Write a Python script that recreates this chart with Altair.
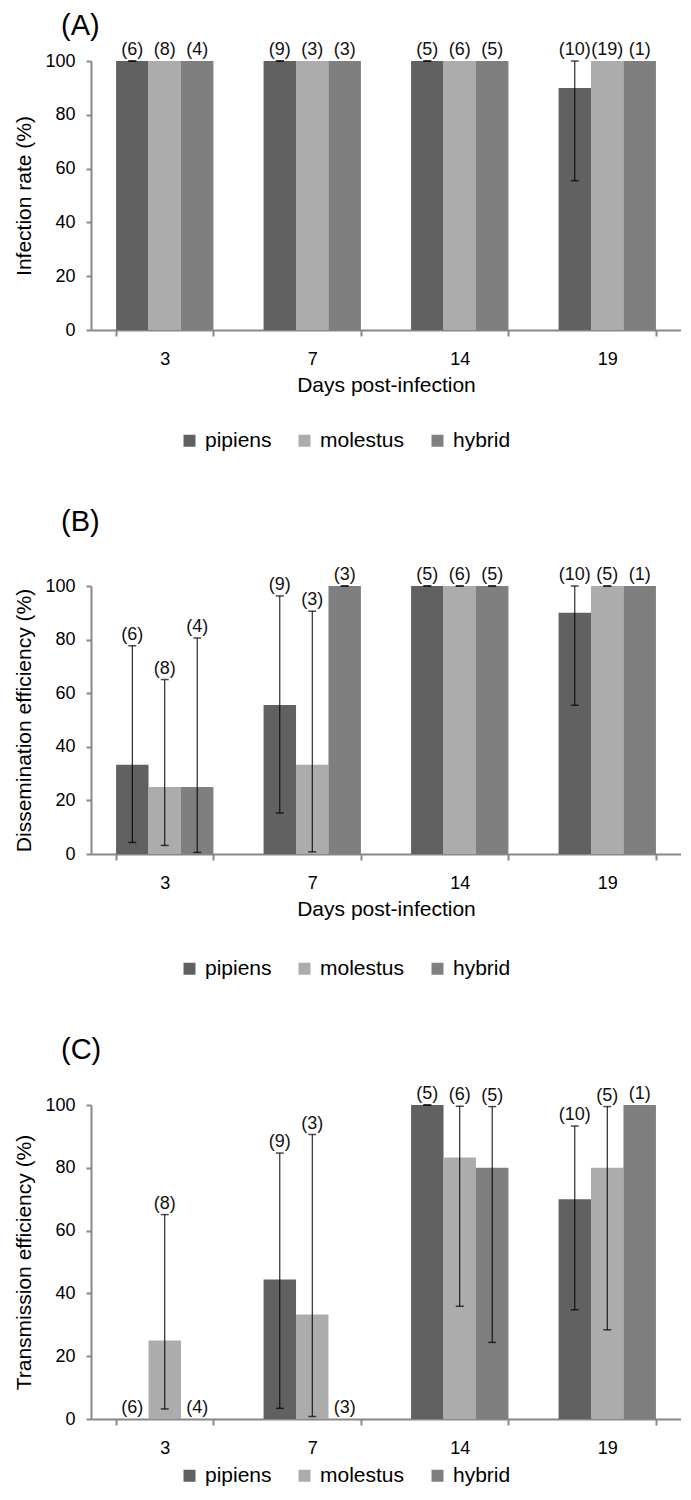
import altair as alt
import pandas as pd

days = ["3", "7", "14", "19"]
series = ["pipiens", "molestus", "hybrid"]
colors = ["#616161", "#acacac", "#7f7f7f"]

# ---- Panel A: infection rate ----
a_pipiens = [100, 100, 100, 90]
a_pipiens_lo = [100, 100, 100, 55.5]
a_pipiens_hi = [100, 100, 100, 100]
a_pipiens_n = [6, 9, 5, 10]
a_molestus = [100, 100, 100, 100]
a_molestus_lo = [None, None, None, None]
a_molestus_hi = [None, None, None, None]
a_molestus_n = [8, 3, 6, 19]
a_hybrid = [100, 100, 100, 100]
a_hybrid_lo = [None, None, None, None]
a_hybrid_hi = [None, None, None, None]
a_hybrid_n = [4, 3, 5, 1]

# ---- Panel B: dissemination efficiency ----
b_pipiens = [33.3, 55.6, 100, 90]
b_pipiens_lo = [4.3, 15.3, 100, 55.5]
b_pipiens_hi = [77.7, 96.3, 100, 100]
b_pipiens_n = [6, 9, 5, 10]
b_molestus = [25, 33.3, 100, 100]
b_molestus_lo = [3.2, 0.8, 100, 100]
b_molestus_hi = [65.1, 90.6, 100, 100]
b_molestus_n = [8, 3, 6, 5]
b_hybrid = [25, 100, 100, 100]
b_hybrid_lo = [0.6, 100, 100, None]
b_hybrid_hi = [80.6, 100, 100, None]
b_hybrid_n = [4, 3, 5, 1]

# ---- Panel C: transmission efficiency ----
c_pipiens = [0, 44.4, 100, 70]
c_pipiens_lo = [None, 3.4, 100, 34.8]
c_pipiens_hi = [None, 84.7, 100, 93.3]
c_pipiens_n = [6, 9, 5, 10]
c_molestus = [25, 33.3, 83.3, 80]
c_molestus_lo = [3.2, 0.8, 35.9, 28.4]
c_molestus_hi = [65.1, 90.6, 99.6, 99.5]
c_molestus_n = [8, 3, 6, 5]
c_hybrid = [0, 0, 80, 100]
c_hybrid_lo = [None, None, 24.4, None]
c_hybrid_hi = [None, None, 99.5, None]
c_hybrid_n = [4, 3, 5, 1]

FONT = "Liberation Sans"


def build_frame(groups):
    rows = []
    for name, (vals, los, his, ns) in zip(series, groups):
        for d, v, lo, hi, n in zip(days, vals, los, his, ns):
            top = v if hi is None else max(v, hi)
            rows.append({"day": d, "series": name, "value": v,
                         "lo": lo, "hi": hi, "top": top,
                         "label": f"({n})"})
    return pd.DataFrame(rows)


def panel(df, letter, ytitle, height, xtitle, legend_y, title_offset):
    base = alt.Chart(df)
    x = alt.X("day:N", sort=days,
              scale=alt.Scale(paddingInner=0.34, paddingOuter=0.17),
              axis=alt.Axis(title=xtitle, labelAngle=0, tickBand="extent",
                            domainColor="#888888", domainWidth=2,
                            tickColor="#888888", tickWidth=2, tickSize=6,
                            labelFontSize=18, labelPadding=14,
                            titleFontSize=21, titleFontWeight="normal",
                            titlePadding=6, labelColor="#000", titleColor="#000"))
    xo = alt.XOffset("series:N", sort=series,
                     scale=alt.Scale(paddingInner=0, paddingOuter=0))
    yscale = alt.Scale(domain=[0, 100])
    y = alt.Y("value:Q", scale=yscale,
              axis=alt.Axis(title=ytitle, values=[0, 20, 40, 60, 80, 100],
                            grid=False, domainColor="#888888", domainWidth=2,
                            tickColor="#888888", tickWidth=2, tickSize=5,
                            labelFontSize=18, labelPadding=11,
                            titleFontSize=21, titleFontWeight="normal",
                            titlePadding=10, labelColor="#000", titleColor="#000"))
    color = alt.Color("series:N", sort=series,
                      scale=alt.Scale(domain=series, range=colors),
                      legend=alt.Legend(title=None, orient="none",
                                        direction="horizontal",
                                        legendX=88, legendY=legend_y,
                                        symbolType="square", symbolSize=144,
                                        symbolStrokeWidth=0,
                                        labelFontSize=21, labelOffset=5,
                                        columnPadding=22, labelColor="#000"))
    bars = base.mark_bar().encode(x=x, xOffset=xo, y=y, color=color)
    valid = base.transform_filter("isValid(datum.lo)")
    rules = valid.mark_rule(color="black", strokeWidth=1).encode(
        x=alt.X("day:N", sort=days), xOffset=xo,
        y=alt.Y("lo:Q", scale=yscale), y2="hi:Q")
    cap_lo = valid.mark_tick(color="black", size=8, thickness=1.5,
                             orient="horizontal").encode(
        x=alt.X("day:N", sort=days), xOffset=xo, y=alt.Y("lo:Q", scale=yscale))
    cap_hi = valid.mark_tick(color="black", size=8, thickness=1.5,
                             orient="horizontal").encode(
        x=alt.X("day:N", sort=days), xOffset=xo, y=alt.Y("hi:Q", scale=yscale))
    labels = base.mark_text(baseline="bottom", dy=-2, fontSize=18,
                            color="#111").encode(
        x=alt.X("day:N", sort=days), xOffset=xo,
        y=alt.Y("top:Q", scale=yscale), text="label:N")
    return alt.layer(bars, rules, cap_lo, cap_hi, labels).properties(
        width=590, height=height,
        title=alt.TitleParams(letter, anchor="start", frame="group", dx=-30,
                              fontSize=29, fontWeight="normal",
                              offset=title_offset, color="#000"))


df_a = build_frame([(a_pipiens, a_pipiens_lo, a_pipiens_hi, a_pipiens_n),
                    (a_molestus, a_molestus_lo, a_molestus_hi, a_molestus_n),
                    (a_hybrid, a_hybrid_lo, a_hybrid_hi, a_hybrid_n)])
df_b = build_frame([(b_pipiens, b_pipiens_lo, b_pipiens_hi, b_pipiens_n),
                    (b_molestus, b_molestus_lo, b_molestus_hi, b_molestus_n),
                    (b_hybrid, b_hybrid_lo, b_hybrid_hi, b_hybrid_n)])
df_c = build_frame([(c_pipiens, c_pipiens_lo, c_pipiens_hi, c_pipiens_n),
                    (c_molestus, c_molestus_lo, c_molestus_hi, c_molestus_n),
                    (c_hybrid, c_hybrid_lo, c_hybrid_hi, c_hybrid_n)])

pa = panel(df_a, "(A)", "Infection rate (%)", 269, "Days post-infection", 369, 0)
pb = panel(df_b, "(B)", "Dissemination efficiency (%)", 268, "Days post-infection", 372, 29)
pc = panel(df_c, "(C)", "Transmission efficiency (%)", 314, None, 360, 20)

chart = alt.vconcat(pa, pb, pc, spacing=57).resolve_scale(
    x="independent", y="independent", color="independent"
).resolve_legend(color="independent").configure(
    font=FONT, padding={"left": 5, "top": 4, "right": 0, "bottom": 5}
).configure_view(stroke=None)

chart.save("out.html", embed_options={"renderer": "svg", "actions": False})
